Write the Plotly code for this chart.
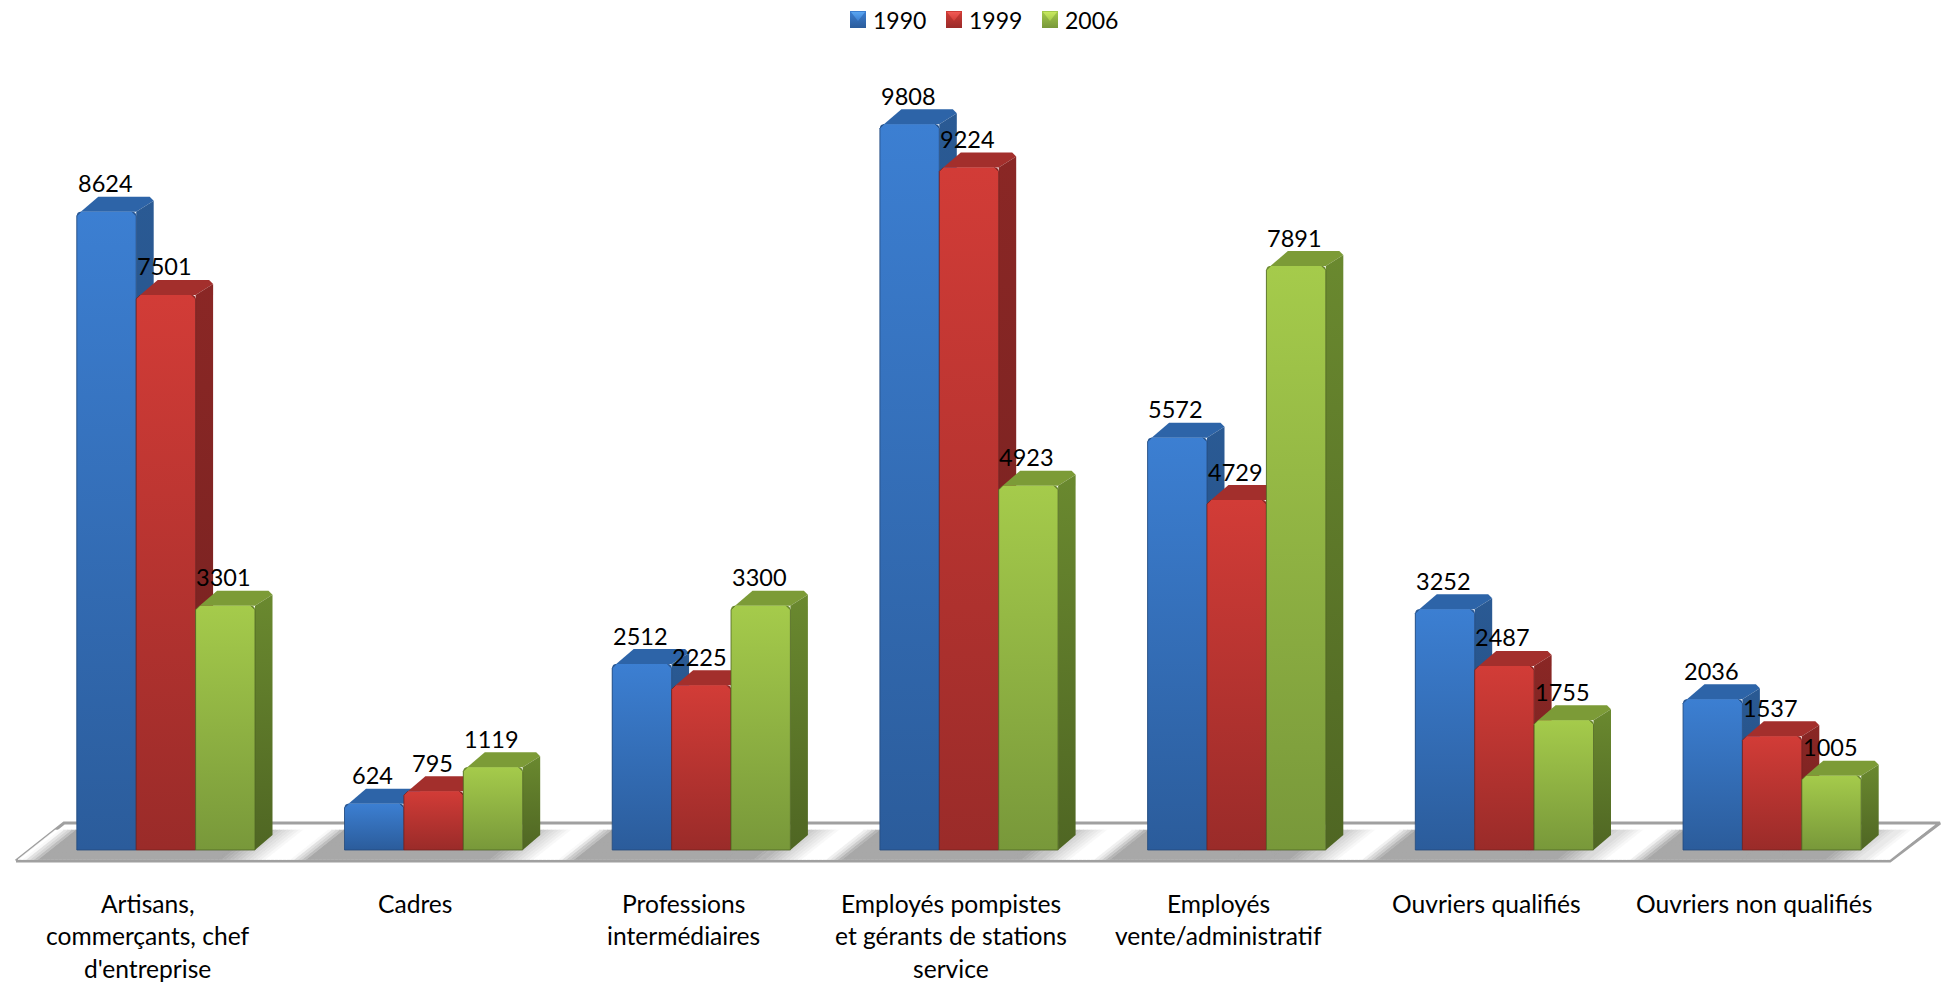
import plotly.graph_objects as go

# Employment by socio-professional category, three census years
categories = [
    "Artisans,<br>commerçants, chef<br>d'entreprise",
    "Cadres",
    "Professions<br>intermédiaires",
    "Employés pompistes<br>et gérants de stations<br>service",
    "Employés<br>vente/administratif",
    "Ouvriers qualifiés",
    "Ouvriers non qualifiés",
]
years = ["1990", "1999", "2006"]
values_1990 = [8624, 624, 2512, 9808, 5572, 3252, 2036]
values_1999 = [7501, 795, 2225, 9224, 4729, 2487, 1537]
values_2006 = [3301, 1119, 3300, 4923, 7891, 1755, 1005]
series = [values_1990, values_1999, values_2006]

# Face colours per series: (front top, front bottom, side top, side bottom, top face)
palette = [
    ("#3c7fd2", "#2b5c9b", "#2a5a94", "#234a7c", "#2d64a8"),
    ("#d23c37", "#9a2b29", "#8a2725", "#742120", "#a32f2c"),
    ("#a5cb4b", "#78983a", "#6a892f", "#4f6623", "#7c9b37"),
]
# Bright upper facet of the key swatches
swatch_light = ["#5aa5f0", "#f05a55", "#c8e860"]

W, H = 1941, 982
GROUP_PX = 267.7        # horizontal distance between categories
BAR_PX = 59.4           # width of one bar's front face
UNIT_PX = 0.074         # pixels per employee on the value axis
BASE_Y = 850            # pixel row of the zero line
FIRST_X = 165.9         # pixel column of the first group's centre
DEPTH_X, DEPTH_Y = 17.5, 15.0
CORNER = 4.0
FONT = "Lato"
VALUE_SIZE = 23.5
LABEL_SIZE = 24.6
KEY_SIZE = 23


def ux(px):
    """Horizontal pixel distance expressed in axis units."""
    return px / GROUP_PX


def uy(px):
    """Vertical pixel distance expressed in axis units."""
    return px / UNIT_PX


def row(py):
    """Value-axis position of a pixel row."""
    return (BASE_Y - py) / UNIT_PX


def col(px):
    """Category-axis position of a pixel column."""
    return (px - FIRST_X) / GROUP_PX


def lerp_grey(t):
    v = int(round(168 + (255 - 168) * t))
    return f"rgb({v},{v},{v})"


fig = go.Figure()

# Floor: white parallelogram with a grey outline
fl, fr, bl, br = 16, 1890, 64, 1940
fy, by = 861, 823
fig.add_trace(go.Scatter(
    x=[col(fl), col(fr), col(br), col(bl), col(fl)],
    y=[row(fy), row(fy), row(by), row(by), row(fy)],
    mode="lines", fill="toself", fillcolor="#ffffff",
    line=dict(color="#a0a0a0", width=3.2),
    hoverinfo="skip", showlegend=False,
))

# Floor sheen: skewed slices grouped into a few grey levels
SHEEN_TOP, SHEEN_BOTTOM = 830, 859.5
SKEW = (SHEEN_BOTTOM - SHEEN_TOP) * (bl - fl) / (fy - by)
SLICE = 4
LEVELS = 12
START_PHASE = 12.6
slices = {k: ([], []) for k in range(LEVELS + 1)}
u = fl + 2
while u < fr:
    d = (u + SLICE / 2 - START_PHASE + GROUP_PX / 2) % GROUP_PX - GROUP_PX / 2
    if -12 <= d <= 10:
        t = 1.0
    elif -62 < d < -12:
        t = (d + 62) / 50
    elif 10 < d < 28:
        t = 1 - (d - 10) / 18
    else:
        t = 0.0
    k = round(t * LEVELS)
    xs, ys = slices[k]
    xs += [col(u), col(u + SLICE), col(u + SLICE + SKEW), col(u + SKEW), col(u), None]
    ys += [row(SHEEN_BOTTOM), row(SHEEN_BOTTOM), row(SHEEN_TOP), row(SHEEN_TOP), row(SHEEN_BOTTOM), None]
    u += SLICE
for k, (xs, ys) in slices.items():
    if xs:
        c = lerp_grey(k / LEVELS)
        fig.add_trace(go.Scatter(
            x=xs, y=ys, mode="lines", fill="toself", fillcolor=c,
            line=dict(color=c, width=0.6), hoverinfo="skip", showlegend=False,
        ))

bar_w = ux(BAR_PX)

# Flat bars carry the values; the faces below add the extruded look
for s, vals in enumerate(series):
    fig.add_trace(go.Bar(
        x=[i + (s - 1) * bar_w for i in range(len(vals))],
        y=vals, width=bar_w, name=years[s],
        marker=dict(color=palette[s][1], cornerradius=4, line=dict(width=0)),
        showlegend=False,
    ))

# Extruded faces, drawn group by group so each bar hides its neighbour's side
annotations = []
for i in range(len(categories)):
    for s, vals in enumerate(series):
        v = vals[i]
        front_top, front_bot, side_top, side_bot, top_face = palette[s]
        x0 = i + (s - 1) * bar_w - bar_w / 2
        x1 = x0 + bar_w
        dx, dy, cx, cy = ux(DEPTH_X), uy(DEPTH_Y), ux(CORNER), uy(CORNER)

        fig.add_trace(go.Scatter(
            x=[x0 + cx, x0 + dx + cx, x1 + dx - cx, x1 + dx, x1, x0 + cx],
            y=[v, v + dy, v + dy, v + dy - cy, v, v],
            mode="lines", fill="toself", fillcolor=top_face,
            line=dict(width=0), hoverinfo="skip", showlegend=False,
        ))
        fig.add_trace(go.Scatter(
            x=[x1, x1 + dx, x1 + dx, x1, x1],
            y=[0, dy, v + dy - cy, v, 0],
            mode="lines", fill="toself",
            fillgradient=dict(type="vertical", colorscale=[[0, side_bot], [1, side_top]]),
            line=dict(width=0), hoverinfo="skip", showlegend=False,
        ))
        # The outline stays open along the top so that edge remains bright
        fig.add_trace(go.Scatter(
            x=[x0 + cx, x0, x0, x1, x1, x1 - cx],
            y=[v, v - cy, 0, 0, v - cy, v],
            mode="lines", fill="toself",
            fillgradient=dict(type="vertical", colorscale=[[0, front_bot], [1, front_top]]),
            line=dict(color=side_bot, width=0.8),
            hovertemplate=f"{years[s]}: {v}<extra></extra>", showlegend=False,
        ))
        annotations.append(dict(
            x=(x0 + x1) / 2, y=v, xref="x", yref="y", text=str(v), showarrow=False,
            xshift=-1.5, yshift=28.5, xanchor="center", yanchor="middle",
            font=dict(family=FONT, size=VALUE_SIZE, color="#000000"),
        ))

# Key: bevelled swatches with the year beside each
KEY_LEFT, KEY_STEP, KEY_SWATCH, KEY_TOP, KEY_BOTTOM, KEY_TEXT_GAP = 850, 96, 16, 11, 28, 20.5
for s, year in enumerate(years):
    left = KEY_LEFT + s * KEY_STEP
    right = left + KEY_SWATCH
    fig.add_trace(go.Scatter(
        x=[col(left), col(right), col(right), col(left), col(left)],
        y=[row(KEY_TOP), row(KEY_TOP), row(KEY_BOTTOM), row(KEY_BOTTOM), row(KEY_TOP)],
        mode="lines", fill="toself",
        fillgradient=dict(type="vertical", colorscale=[[0, palette[s][1]], [1, palette[s][0]]]),
        line=dict(width=0), hoverinfo="skip", showlegend=False,
    ))
    fig.add_trace(go.Scatter(
        x=[col(left + 1), col(right - 1), col((left + right) / 2), col(left + 1)],
        y=[row(KEY_TOP + 1), row(KEY_TOP + 1), row(KEY_TOP + 10), row(KEY_TOP + 1)],
        mode="lines", fill="toself",
        fillgradient=dict(type="vertical", colorscale=[[0, palette[s][0]], [1, swatch_light[s]]]),
        line=dict(width=0), hoverinfo="skip", showlegend=False,
    ))
    annotations.append(dict(
        x=col(left + KEY_TEXT_GAP), y=row(20), xref="x", yref="y", text=year,
        showarrow=False, xanchor="left", yanchor="middle",
        font=dict(family=FONT, size=KEY_SIZE, color="#000000"),
    ))

# Category labels, one annotation per line for the wide leading
LABEL_FIRST_ROW, LABEL_LEADING, LABEL_SHIFT = 903, 32.5, -18.0
for i, cat in enumerate(categories):
    for n, line in enumerate(cat.split("<br>")):
        annotations.append(dict(
            x=i + ux(LABEL_SHIFT), y=row(LABEL_FIRST_ROW + n * LABEL_LEADING),
            xref="x", yref="y", text=line, showarrow=False,
            xanchor="center", yanchor="middle",
            font=dict(family=FONT, size=LABEL_SIZE, color="#000000"),
        ))

fig.update_layout(
    width=W, height=H, margin=dict(l=0, r=0, t=0, b=0),
    paper_bgcolor="#ffffff", plot_bgcolor="#ffffff",
    barmode="overlay", annotations=annotations, showlegend=False,
    xaxis=dict(range=[col(0), col(W)], visible=False, fixedrange=True),
    yaxis=dict(range=[row(H), row(0)], visible=False, fixedrange=True),
)

fig.write_html("out.html")
